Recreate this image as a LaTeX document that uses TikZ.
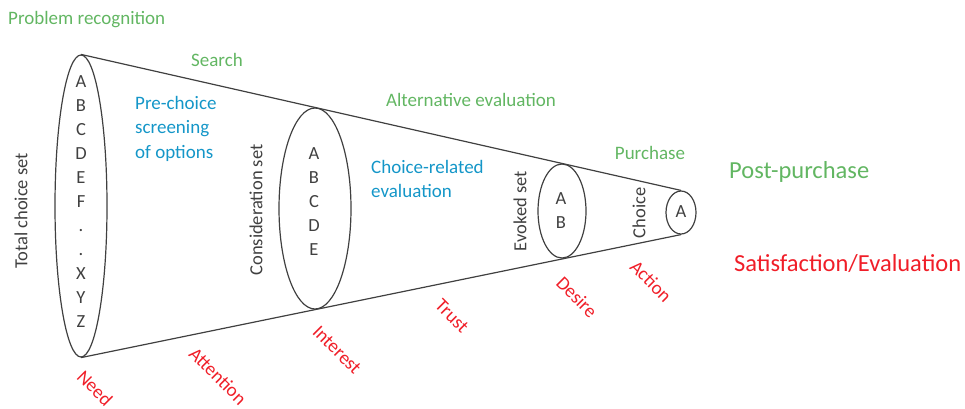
\documentclass[tikz,border=0pt]{standalone}
\usepackage{fontspec}
\setmainfont{Carlito}
\usetikzlibrary{shapes.geometric}
\definecolor{lgreen}{RGB}{98,182,98}
\definecolor{lblue}{RGB}{20,150,200}
\definecolor{lred}{RGB}{240,30,40}
\definecolor{ink}{RGB}{64,64,64}
\tikzset{
  setring/.style={ellipse, draw=ink, line width=1.2pt, inner sep=0pt},
  edge/.style={draw=ink, line width=1.2pt},
  letters/.style={text=ink, font=\fontsize{18.5}{24}\selectfont, align=center, inner sep=0pt},
  stage/.style={text=lgreen, font=\fontsize{19}{22}\selectfont, inner sep=0pt},
  bigstage/.style={font=\fontsize{24.5}{28}\selectfont, inner sep=0pt},
  process/.style={text=lblue, font=\fontsize{19}{24.5}\selectfont, align=left, inner sep=0pt},
  setname/.style={text=ink, font=\fontsize{18.5}{22}\selectfont, rotate=90, inner sep=0pt},
  aida/.style={text=lred, font=\fontsize{19}{22}\selectfont, rotate=-45, inner sep=0pt}
}
\begin{document}
\begin{tikzpicture}[x=1pt,y=-1pt]
\useasboundingbox (0,0) rectangle (965,408);
% rings
\node[setring, minimum width=52pt, minimum height=302pt] (e1) at (81,206) {};
\node[setring, minimum width=72pt, minimum height=201pt] (e2) at (315,208.5) {};
\node[setring, minimum width=48pt, minimum height=94pt] (e3) at (562,211) {};
\node[setring, minimum width=30pt, minimum height=43pt] (e4) at (681,212.5) {};
% funnel
\draw[edge] (e1.north) -- (e4.north);
\draw[edge] (e1.south) -- (e4.south);
% letters
\node[letters] (l1) at (81,202) {A\\B\\C\\D\\E\\F\\.\\.\\X\\Y\\Z};
\node[letters] (l2) at (314,202) {A\\B\\C\\D\\E};
\node[letters] (l3) at (561,211) {A\\B};
\node[letters] (l4) at (681,212) {A};
% set names
\node[setname] (t1) at (21,211) {Total choice set};
\node[setname] (t2) at (256,210) {Consideration set};
\node[setname] (t3) at (520,211) {Evoked set};
\node[setname] (t4) at (639,213) {Choice};
% stages
\node[stage, anchor=west] (s1) at (8,20) {Problem recognition};
\node[stage] (s2) at (217,60) {Search};
\node[stage] (s3) at (471,100) {Alternative evaluation};
\node[stage] (s4) at (650,153) {Purchase};
\node[bigstage, text=lgreen, anchor=west] (s5) at (729,172) {Post-purchase};
\node[bigstage, text=lred, anchor=west] (s6) at (734,264) {Satisfaction/Evaluation};
% processes
\node[process, anchor=north west] (p1) at (135,96) {Pre-choice\\screening\\of options};
\node[process, anchor=north west] (p2) at (371,160) {Choice-related\\evaluation};
% AIDA
\node[aida] (a1) at (95,388) {Need};
\node[aida] (a2) at (218,376) {Attention};
\node[aida] (a3) at (337,350) {Interest};
\node[aida] (a4) at (452,316) {Trust};
\node[aida] (a5) at (577,297) {Desire};
\node[aida] (a6) at (651,281) {Action};
\end{tikzpicture}
\end{document}
